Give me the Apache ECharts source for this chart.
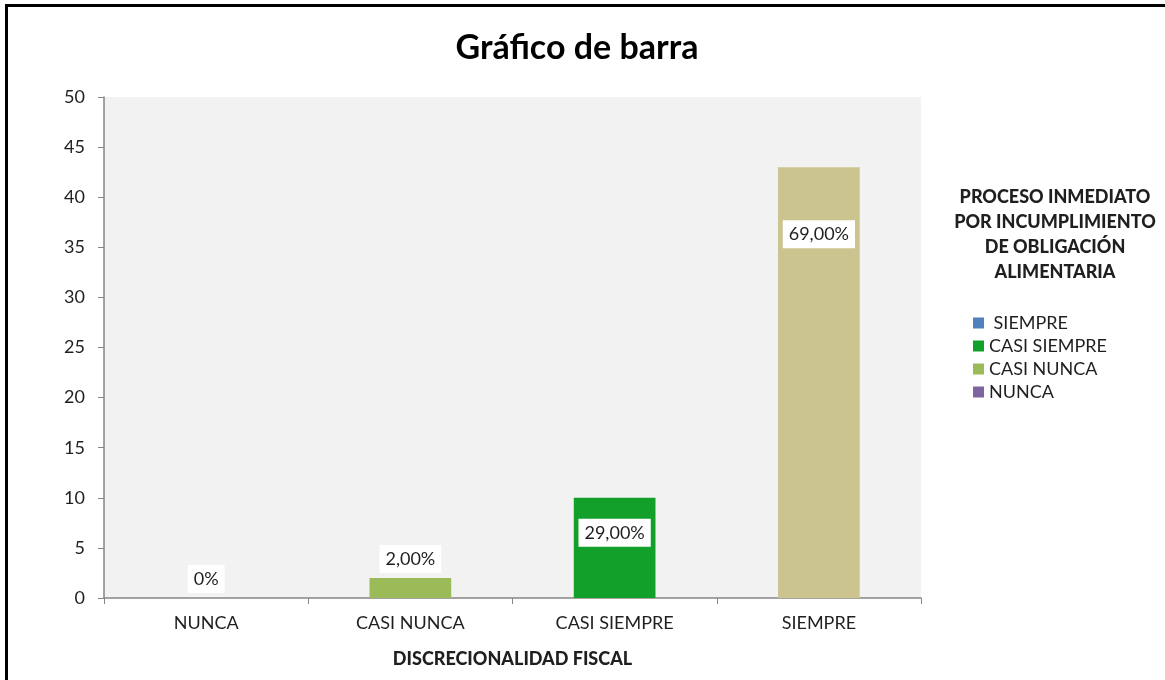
<!DOCTYPE html>
<html>
<head>
<meta charset="utf-8">
<script src="https://cdn.jsdelivr.net/npm/echarts@6/dist/echarts.min.js"></script>
<style>
  html, body { margin: 0; padding: 0; background: #fff; }
  #chart { width: 1165px; height: 680px; }
  .frame {
    position: absolute; left: 5px; top: 4px; right: 0; bottom: 0;
    border-top: 3px solid #000; border-left: 3px solid #000;
    pointer-events: none;
  }
</style>
</head>
<body>
<div id="chart"></div>
<div class="frame"></div>
<script>
// categorías del eje X
const categories = ["NUNCA", "CASI NUNCA", "CASI SIEMPRE", "SIEMPRE"];
// valores de cada barra (frecuencia)
const values = [0, 2, 10, 43];
// etiquetas de porcentaje
const percentLabels = ["0%", "2,00%", "29,00%", "69,00%"];
// orden de la leyenda
const legendNames = ["SIEMPRE", "CASI SIEMPRE", "CASI NUNCA", "NUNCA"];
const yTicks = [0, 50, 5]; // min, max, intervalo

// colores
const legendColors = {
  "SIEMPRE": "#4f81bd",
  "CASI SIEMPRE": "#12a02a",
  "CASI NUNCA": "#9bbb59",
  "NUNCA": "#8064a2",
};
const barColors = {
  "SIEMPRE": "#ccc48f",
  "CASI SIEMPRE": "#12a02a",
  "CASI NUNCA": "#9bbb59",
  "NUNCA": "#8064a2",
};
// posición de la etiqueta de cada barra
const labelPos = {
  "NUNCA": { position: "top", distance: 5 },
  "CASI NUNCA": { position: "top", distance: 5 },
  "CASI SIEMPRE": { position: "insideTop", distance: 21 },
  "SIEMPRE": { position: "insideTop", distance: 53 },
};

const font = "Lato, 'Open Sans', sans-serif";
const textColor = "#1f1f1f";
const chart = echarts.init(document.getElementById("chart"));

const series = legendNames.map((name) => {
  const idx = categories.indexOf(name);
  return {
    name: name,
    type: "bar",
    stack: "total",
    barWidth: "40%",
    itemStyle: { color: legendColors[name] },
    label: {
      show: true,
      position: labelPos[name].position,
      distance: labelPos[name].distance,
      formatter: () => percentLabels[idx],
      backgroundColor: "#fff",
      padding: [5, 6],
      color: textColor,
      fontFamily: font,
      fontSize: 18,
    },
    data: categories.map((c, i) =>
      i === idx ? { value: values[i], itemStyle: { color: barColors[name] } } : "-"
    ),
  };
});

const option = {
  backgroundColor: "#fff",
  animation: false,
  title: [
    {
      text: "Gráfico de barra",
      left: 572,
      top: 26,
      textAlign: "center",
      textStyle: { fontFamily: font, fontSize: 34, fontWeight: "bold", color: "#000" },
    },
    {
      text: "PROCESO INMEDIATO\nPOR INCUMPLIMIENTO\nDE OBLIGACIÓN\nALIMENTARIA",
      left: 1050,
      top: 180,
      textAlign: "center",
      textStyle: { fontFamily: font, fontSize: 18, fontWeight: 900, color: textColor, lineHeight: 25 },
    },
  ],
  legend: {
    orient: "vertical",
    left: 968,
    top: 309,
    itemWidth: 11,
    itemHeight: 11,
    itemGap: 5,
    icon: "rect",
    data: legendNames,
    formatter: (n) => (n === "SIEMPRE" ? " " + n : n),
    textStyle: { fontFamily: font, fontSize: 18, color: textColor },
  },
  grid: { left: 104, right: 244, top: 97, bottom: 82, containLabel: false,
    show: true, backgroundColor: "#f2f2f2", borderWidth: 0 },
  xAxis: {
    type: "category",
    data: categories,
    name: "DISCRECIONALIDAD FISCAL",
    nameLocation: "middle",
    nameGap: 52,
    nameTextStyle: { fontFamily: font, fontSize: 18, fontWeight: 900, color: textColor },
    axisLine: { lineStyle: { color: "#868686", width: 1.5 } },
    axisTick: { show: true, length: 6, lineStyle: { color: "#868686" } },
    axisLabel: { margin: 16, fontFamily: font, fontSize: 18, color: textColor },
  },
  yAxis: {
    type: "value",
    min: yTicks[0],
    max: yTicks[1],
    interval: yTicks[2],
    axisLine: { show: true, lineStyle: { color: "#868686", width: 1.5 } },
    axisTick: { show: true, length: 6, lineStyle: { color: "#868686" } },
    splitLine: { show: false },
    axisLabel: { margin: 19, fontFamily: font, fontSize: 18, color: textColor },
  },
  series: series,
};
chart.setOption(option);
</script>
</body>
</html>
